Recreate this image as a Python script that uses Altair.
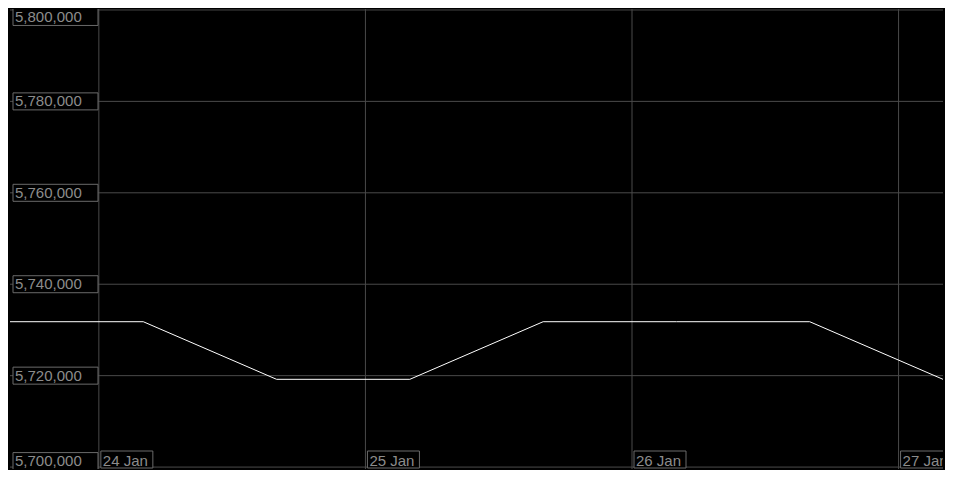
import altair as alt
import pandas as pd

# ---- data ----
times = [
    "2024-01-23T16:00:00Z", "2024-01-24T04:00:00Z", "2024-01-24T16:00:00Z",
    "2024-01-25T04:00:00Z", "2024-01-25T16:00:00Z", "2024-01-26T04:00:00Z",
    "2024-01-26T16:00:00Z", "2024-01-27T04:00:00Z",
]
values = [5731800, 5731800, 5719200, 5719200, 5731800, 5731800, 5731800, 5719200]

x_ticks = ["2024-01-24T00:00:00Z", "2024-01-25T00:00:00Z",
           "2024-01-26T00:00:00Z", "2024-01-27T00:00:00Z"]
x_labels = ["24 Jan", "25 Jan", "26 Jan", "27 Jan"]
y_ticks = [5700000, 5720000, 5740000, 5760000, 5780000, 5800000]

x_domain = ["2024-01-23T16:00:00Z", "2024-01-27T04:00:00Z"]
y_domain = [5699580, 5800210]

W, H = 937, 462
GRID = "#4a4a4a"
BOX = "#6a6a6a"
TEXT = "#8c8c8c"
FONT = "Liberation Sans"


def ms(s):
    return int(pd.Timestamp(s).value // 10**6)


line_df = pd.DataFrame({"t": [ms(s) for s in times], "v": values})
xt_df = pd.DataFrame({"t": [ms(s) for s in x_ticks], "label": x_labels})
yt_df = pd.DataFrame({"v": y_ticks})

xs = alt.Scale(type="utc", domain=[ms(s) for s in x_domain])
ys = alt.Scale(domain=y_domain, nice=False, zero=False)

X = lambda: alt.X("t:T", scale=xs, axis=None)
Y = lambda: alt.Y("v:Q", scale=ys, axis=None)

vgrid = alt.Chart(xt_df).mark_rule(color=GRID, strokeWidth=1).encode(x=X())
hgrid = alt.Chart(yt_df).mark_rule(color=GRID, strokeWidth=1).encode(y=Y())

line = alt.Chart(line_df).mark_line(color="white", strokeWidth=1).encode(x=X(), y=Y())

# y labels with boxes
top = yt_df[yt_df.v == max(y_ticks)]
bot = yt_df[yt_df.v == min(y_ticks)]
mid = yt_df[(yt_df.v != max(y_ticks)) & (yt_df.v != min(y_ticks))]


def ylab(df, off):
    box = alt.Chart(df).mark_rect(height=17, fill="black", stroke=BOX, strokeWidth=1,
                                  yOffset=off, clip=True).encode(
        x=alt.value(3), x2=alt.value(88), y=Y())
    txt = alt.Chart(df).mark_text(align="left", baseline="middle", font=FONT, fontSize=15,
                                  color=TEXT, yOffset=off, clip=True).encode(
        x=alt.value(5), y=Y(), text=alt.Text("v:Q", format=","))
    return [box, txt]


ylayers = ylab(mid, 0) + ylab(top, 7) + ylab(bot, -6)

xbox = alt.Chart(xt_df).mark_rect(width=52, xOffset=28, fill="black", stroke=BOX,
                                  strokeWidth=1, clip=True).encode(
    x=X(), y=alt.value(H - 20), y2=alt.value(H - 3))
xtxt = alt.Chart(xt_df).mark_text(align="left", baseline="alphabetic", font=FONT,
                                  fontSize=15, color=TEXT, dx=4, clip=True).encode(
    x=X(), y=alt.value(H - 5.5), text="label:N")

chart = alt.layer(vgrid, hgrid, line, *ylayers, xbox, xtxt).properties(
    width=W, height=H,
    autosize=alt.AutoSizeParams(type="fit", contains="padding"),
    padding=0,
    background="black",
).configure_view(strokeWidth=0)

chart.save("out.html", embed_options={"renderer": "svg", "actions": False})
